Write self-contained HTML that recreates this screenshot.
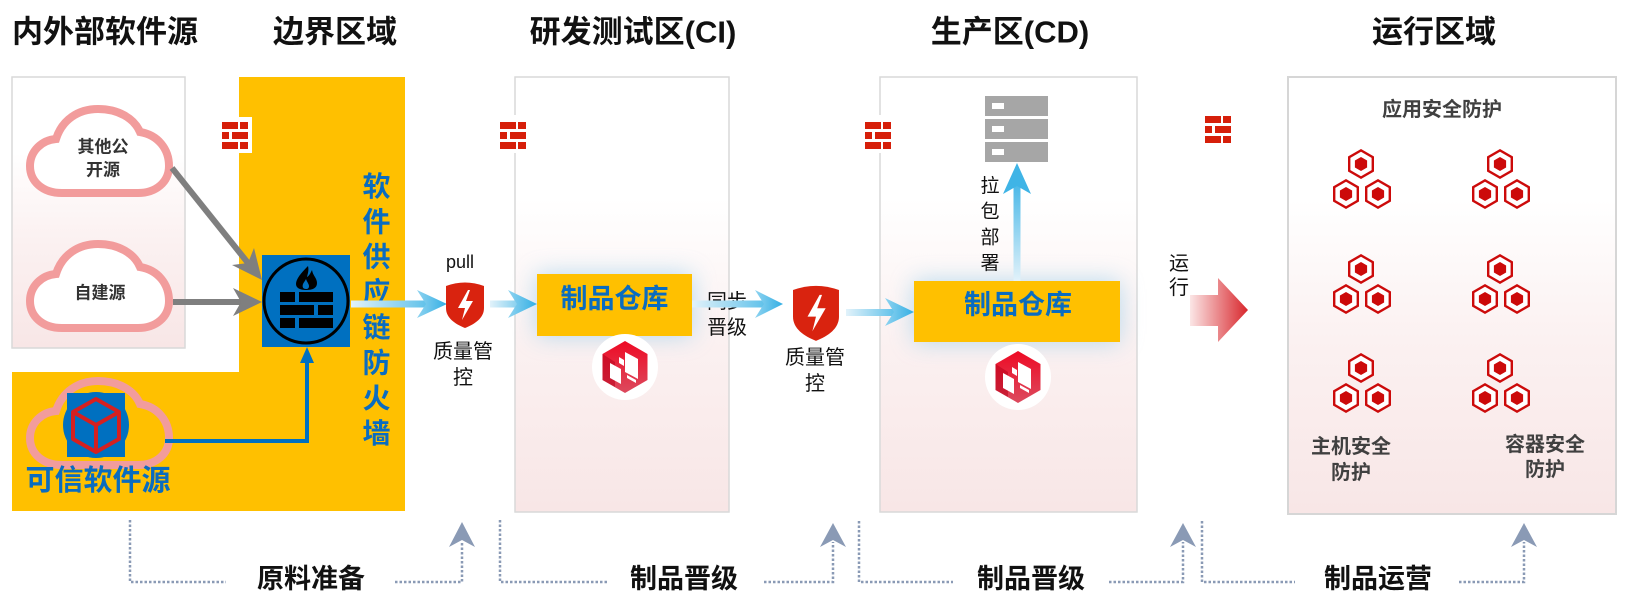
<!DOCTYPE html>
<html>
<head>
<meta charset="utf-8">
<style>
html,body{margin:0;padding:0;background:#fff;}
svg{display:block;}
text{font-family:"Liberation Sans","Noto Sans CJK SC",sans-serif;}
.h{font-size:31px;font-weight:bold;fill:#111;}
.b{font-weight:bold;}
</style>
</head>
<body>
<svg width="1633" height="605" viewBox="0 0 1633 605" xmlns="http://www.w3.org/2000/svg">
<defs>
  <linearGradient id="pg" x1="0" y1="0" x2="0" y2="1">
    <stop offset="0" stop-color="#ffffff"/>
    <stop offset="0.28" stop-color="#ffffff"/>
    <stop offset="0.6" stop-color="#fbf1f1"/>
    <stop offset="1" stop-color="#f8e6e6"/>
  </linearGradient>
  <linearGradient id="bl" x1="0" y1="0" x2="1" y2="0">
    <stop offset="0" stop-color="#e2f2fa"/>
    <stop offset="1" stop-color="#62c2ea"/>
  </linearGradient>
  <linearGradient id="bh" x1="0" y1="0" x2="1" y2="0">
    <stop offset="0" stop-color="#8fd3f0"/>
    <stop offset="1" stop-color="#33afe4"/>
  </linearGradient>
  <linearGradient id="bv" x1="0" y1="1" x2="0" y2="0">
    <stop offset="0" stop-color="#e2f2fa"/>
    <stop offset="1" stop-color="#4db9e8"/>
  </linearGradient>
  <linearGradient id="ra" x1="1190" y1="0" x2="1248" y2="0" gradientUnits="userSpaceOnUse">
    <stop offset="0" stop-color="#fbe6e6"/>
    <stop offset="1" stop-color="#d8262c"/>
  </linearGradient>
  <linearGradient id="lg" x1="0" y1="0" x2="0" y2="1">
    <stop offset="0" stop-color="#ee0a24"/>
    <stop offset="1" stop-color="#dc4a5e"/>
  </linearGradient>
  <filter id="glow" x="-50%" y="-80%" width="200%" height="260%">
    <feGaussianBlur stdDeviation="12"/>
  </filter>
  <g id="brick">
    <rect x="0" y="0" width="16" height="7" fill="#d61f0a"/>
    <rect x="18" y="0" width="8" height="7" fill="#d61f0a"/>
    <rect x="0" y="10" width="7" height="7" fill="#d61f0a"/>
    <rect x="10" y="10" width="16" height="7" fill="#d61f0a"/>
    <rect x="0" y="20" width="16" height="7" fill="#d61f0a"/>
    <rect x="18" y="20" width="8" height="7" fill="#d61f0a"/>
  </g>
  <g id="hex1">
    <polygon points="0,-15 13,-7.5 13,7.5 0,15 -13,7.5 -13,-7.5" fill="#cc0a0a"/>
    <polygon points="0,-12.2 10.6,-6.1 10.6,6.1 0,12.2 -10.6,6.1 -10.6,-6.1" fill="#fff"/>
    <polygon points="0,-7 6.1,-3.5 6.1,3.5 0,7 -6.1,3.5 -6.1,-3.5" fill="#cc0a0a"/>
  </g>
  <g id="cluster">
    <use href="#hex1" x="28" y="17"/>
    <use href="#hex1" x="13" y="47"/>
    <use href="#hex1" x="45" y="47"/>
  </g>
  <g id="shield">
    <path d="M0,5 Q19,-2 38,5 L38,27 C38,37 29,43 19,47 C9,43 0,37 0,27 Z" fill="#d9230f"/>
    <polygon points="22,9 12,27 19,27 16,39 27,20 20,20 24,9" fill="#fff"/>
  </g>
  <g id="logo">
    <circle cx="0" cy="0" r="33" fill="#fff"/>
    <polygon points="0,-26 22.5,-13 22.5,13 0,26 -22.5,13 -22.5,-13" fill="url(#lg)"/>
    <polygon points="-22.5,-13 -10,-5 -10,20 -22.5,13" fill="#b8001a" opacity="0.55"/>
    <polygon points="0,-15 13,-8 13,12 0,5" fill="#fff"/>
    <polygon points="-15,-4 -4,2 -4,17 -15,11" fill="#fff"/>
    <polygon points="-6,-10 -1,-7 -1,-1 -6,-4" fill="#fff"/>
    <polygon points="2,8 11,13 11,16 2,11" fill="#fff"/>
  </g>
  <path id="cloud" d="M36,88 C16,88 4,76 4,61 C4,46 16,35 30,34 C36,15 52,4 72,4 C92,4 108,13 114,27 C132,30 143,44 143,61 C143,77 130,88 112,88 Z"/>
</defs>

<!-- headers -->
<text class="h" x="105" y="32" text-anchor="middle" dominant-baseline="central">内外部软件源</text>
<text class="h" x="335" y="32" text-anchor="middle" dominant-baseline="central">边界区域</text>
<text class="h" x="633" y="32" text-anchor="middle" dominant-baseline="central">研发测试区(CI)</text>
<text class="h" x="1010" y="32" text-anchor="middle" dominant-baseline="central">生产区(CD)</text>
<text class="h" x="1434" y="32" text-anchor="middle" dominant-baseline="central">运行区域</text>

<!-- panels -->
<rect x="12" y="77" width="173" height="271" fill="url(#pg)" stroke="#d9d9d9" stroke-width="1.5"/>
<rect x="515" y="77" width="214" height="435" fill="url(#pg)" stroke="#d9d9d9" stroke-width="1.5"/>
<rect x="880" y="77" width="257" height="435" fill="url(#pg)" stroke="#d9d9d9" stroke-width="1.5"/>
<rect x="1288" y="77" width="328" height="437" fill="url(#pg)" stroke="#d6d6d6" stroke-width="2"/>

<!-- yellow boundary -->
<polygon points="239,77 405,77 405,511 12,511 12,372 239,372" fill="#ffc000"/>

<!-- bricks with white bg -->
<rect x="217" y="117" width="35" height="36" fill="#fff"/>
<use href="#brick" x="222" y="122"/>
<rect x="496" y="115" width="34" height="38" fill="#fff"/>
<use href="#brick" x="500" y="122"/>
<rect x="861" y="115" width="34" height="38" fill="#fff"/>
<use href="#brick" x="865" y="122"/>
<use href="#brick" x="1205" y="116"/>

<!-- clouds -->
<g transform="translate(26,105)"><use href="#cloud" fill="#fff" stroke="#f29c9c" stroke-width="8"/></g>
<g transform="translate(26,240)"><use href="#cloud" fill="#fff" stroke="#f29c9c" stroke-width="8"/></g>
<g transform="translate(26,377)"><use href="#cloud" fill="none" stroke="#f29c9c" stroke-width="8"/></g>
<text class="b" x="103" y="147" font-size="17" fill="#333" text-anchor="middle" dominant-baseline="central">其他公</text>
<text class="b" x="103" y="170" font-size="17" fill="#333" text-anchor="middle" dominant-baseline="central">开源</text>
<text class="b" x="100" y="293" font-size="17" fill="#333" text-anchor="middle" dominant-baseline="central">自建源</text>

<!-- trusted icon -->
<circle cx="96" cy="425" r="33" fill="#0070c0"/>
<rect x="67" y="393" width="58" height="64" fill="#0070c0"/>
<polygon points="96,399 119,412 119,439 96,452 73,439 73,412" fill="none" stroke="#d52020" stroke-width="4" stroke-linejoin="round"/>
<polyline points="73,412 96,425 119,412" fill="none" stroke="#d52020" stroke-width="4" stroke-linejoin="round"/>
<line x1="96" y1="425" x2="96" y2="452" stroke="#d52020" stroke-width="4"/>
<text class="b" x="98" y="481" font-size="29" fill="#0a6cc0" text-anchor="middle" dominant-baseline="central">可信软件源</text>

<!-- gray arrows -->
<line x1="172" y1="168" x2="248" y2="263" stroke="#7f7f7f" stroke-width="6"/>
<polygon points="262,280 232,265 248,263 254,248" fill="#7f7f7f"/>
<line x1="173" y1="302" x2="242" y2="302" stroke="#7f7f7f" stroke-width="6"/>
<polygon points="262,302 233,288 241,302 233,316" fill="#7f7f7f"/>

<!-- blue trusted line -->
<path d="M165,441 H307 V360" fill="none" stroke="#0070c0" stroke-width="4"/>
<polygon points="307,347 300,363 314,363" fill="#0070c0"/>

<!-- firewall icon -->
<rect x="262" y="255" width="88" height="92" fill="#0070c0"/>
<circle cx="306" cy="301" r="42" fill="none" stroke="#000" stroke-width="3"/>
<path d="M308,266 C301,273 296,279 296,284 C296,288 300,290 306,290 C313,290 317,288 317,283 C317,278 313,276 312,270 C310,274 309,276 307,277 C308,273 309,270 308,266 Z" fill="#000"/>
<path d="M306,289 C303,289 302,287 303,284 C304,282 305,281 306,279 C307,282 309,284 309,286 C309,288 308,289 306,289 Z" fill="#0070c0"/>
<rect x="280" y="292" width="15" height="10" fill="#000"/>
<rect x="299" y="292" width="34" height="10" fill="#000"/>
<rect x="280" y="305" width="34" height="10" fill="#000"/>
<rect x="318" y="305" width="15" height="10" fill="#000"/>
<rect x="280" y="318" width="15" height="10" fill="#000"/>
<rect x="299" y="318" width="34" height="10" fill="#000"/>

<!-- vertical firewall text -->
<g class="b" font-size="28" fill="#0a6cc0" text-anchor="middle">
<text x="376.5" y="186.5" dominant-baseline="central">软</text>
<text x="376.5" y="221.8" dominant-baseline="central">件</text>
<text x="376.5" y="257.1" dominant-baseline="central">供</text>
<text x="376.5" y="292.4" dominant-baseline="central">应</text>
<text x="376.5" y="327.7" dominant-baseline="central">链</text>
<text x="376.5" y="363" dominant-baseline="central">防</text>
<text x="376.5" y="398.3" dominant-baseline="central">火</text>
<text x="376.5" y="433.6" dominant-baseline="central">墙</text>
</g>

<!-- glows -->
<rect x="537" y="274" width="155" height="62" fill="#7ec3e6" opacity="0.55" filter="url(#glow)"/>
<rect x="914" y="281" width="206" height="61" fill="#7ec3e6" opacity="0.55" filter="url(#glow)"/>

<!-- labels under arrows -->
<text x="460" y="268" font-size="18" fill="#111" text-anchor="middle">pull</text>
<text x="463" y="352" font-size="20" fill="#111" text-anchor="middle" dominant-baseline="central">质量管</text>
<text x="463" y="378" font-size="20" fill="#111" text-anchor="middle" dominant-baseline="central">控</text>
<text x="727" y="302" font-size="20" fill="#111" text-anchor="middle" dominant-baseline="central">同步</text>
<text x="727" y="328" font-size="20" fill="#111" text-anchor="middle" dominant-baseline="central">晋级</text>
<text x="815" y="358" font-size="20" fill="#111" text-anchor="middle" dominant-baseline="central">质量管</text>
<text x="815" y="384" font-size="20" fill="#111" text-anchor="middle" dominant-baseline="central">控</text>

<!-- blue arrows -->
<rect x="351" y="300.5" width="75" height="7" fill="url(#bl)"/>
<polygon points="447,304 417,290 426,304 417,318" fill="url(#bh)"/>
<rect x="490" y="300.5" width="39" height="7" fill="url(#bl)"/>
<polygon points="537,304 508,290 517,304 508,318" fill="url(#bh)"/>
<rect x="692" y="300.5" width="72" height="7" fill="url(#bl)"/>
<polygon points="783,304 755,290 764,304 755,318" fill="url(#bh)"/>
<rect x="846" y="309" width="48" height="7" fill="url(#bl)"/>
<polygon points="914,312 885,298 894,312 885,326" fill="url(#bh)"/>

<!-- shields -->
<use href="#shield" x="446" y="281"/>
<g transform="translate(793,284) scale(1.21)"><use href="#shield"/></g>

<!-- product repos -->
<rect x="537" y="274" width="155" height="62" fill="#ffc000"/>
<text class="b" x="614.5" y="299" font-size="27" fill="#0a6cc0" text-anchor="middle" dominant-baseline="central">制品仓库</text>
<rect x="914" y="281" width="206" height="61" fill="#ffc000"/>
<text class="b" x="1018" y="305" font-size="27" fill="#0a6cc0" text-anchor="middle" dominant-baseline="central">制品仓库</text>

<use href="#logo" x="625" y="367"/>
<use href="#logo" x="1018" y="377"/>

<!-- server -->
<rect x="985" y="96" width="63" height="20" fill="#a6a6a6"/>
<rect x="985" y="119" width="63" height="20" fill="#a6a6a6"/>
<rect x="985" y="142" width="63" height="20" fill="#a6a6a6"/>
<rect x="992" y="103" width="12" height="6" fill="#fff"/>
<rect x="992" y="126" width="12" height="6" fill="#fff"/>
<rect x="992" y="149" width="12" height="6" fill="#fff"/>

<!-- up arrow -->
<rect x="1013.5" y="186" width="7" height="95" fill="url(#bv)"/>
<polygon points="1017,163 1003,194 1017,186 1031,194" fill="#3fb4e6"/>
<g font-size="19" fill="#111" text-anchor="middle">
<text x="990" y="186.5" dominant-baseline="central">拉</text>
<text x="990" y="212.2" dominant-baseline="central">包</text>
<text x="990" y="237.9" dominant-baseline="central">部</text>
<text x="990" y="263.6" dominant-baseline="central">署</text>
</g>

<!-- run arrow -->
<text x="1179" y="264" font-size="20" fill="#111" text-anchor="middle" dominant-baseline="central">运</text>
<text x="1179" y="288" font-size="20" fill="#111" text-anchor="middle" dominant-baseline="central">行</text>
<polygon points="1190,295 1218,295 1218,278 1248,310 1218,342 1218,326 1190,326" fill="url(#ra)"/>

<!-- run area -->
<text class="b" x="1442" y="110" font-size="20" fill="#404040" text-anchor="middle" dominant-baseline="central">应用安全防护</text>
<use href="#cluster" x="1333" y="147"/>
<use href="#cluster" x="1472" y="147"/>
<use href="#cluster" x="1333" y="252"/>
<use href="#cluster" x="1472" y="252"/>
<use href="#cluster" x="1333" y="351"/>
<use href="#cluster" x="1472" y="351"/>
<text class="b" x="1351" y="447" font-size="20" fill="#404040" text-anchor="middle" dominant-baseline="central">主机安全</text>
<text class="b" x="1351" y="473" font-size="20" fill="#404040" text-anchor="middle" dominant-baseline="central">防护</text>
<text class="b" x="1545" y="445" font-size="20" fill="#404040" text-anchor="middle" dominant-baseline="central">容器安全</text>
<text class="b" x="1545" y="470" font-size="20" fill="#404040" text-anchor="middle" dominant-baseline="central">防护</text>

<!-- bottom dotted brackets -->
<g fill="none" stroke="#8a9ab5" stroke-width="2.5" stroke-dasharray="2.5 2">
  <path d="M130,520 V582 H226"/>
  <path d="M395,582 H462 V542"/>
  <path d="M500,520 V582 H607"/>
  <path d="M764,582 H833 V542"/>
  <path d="M859,521 V582 H953"/>
  <path d="M1109,582 H1183 V542"/>
  <path d="M1202,521 V582 H1295"/>
  <path d="M1459,582 H1524 V542"/>
</g>
<g fill="#8a9ab5">
  <polygon points="462,522 449,547 462,540 475,547"/>
  <polygon points="833,523 820,547 833,540 846,547"/>
  <polygon points="1183,523 1170,547 1183,540 1196,547"/>
  <polygon points="1524,523 1511,547 1524,540 1537,547"/>
</g>
<g class="b" font-size="27" fill="#111" text-anchor="middle">
  <text x="311" y="579" dominant-baseline="central">原料准备</text>
  <text x="684" y="579" dominant-baseline="central">制品晋级</text>
  <text x="1031" y="579" dominant-baseline="central">制品晋级</text>
  <text x="1378" y="579" dominant-baseline="central">制品运营</text>
</g>
</svg>
</body>
</html>
